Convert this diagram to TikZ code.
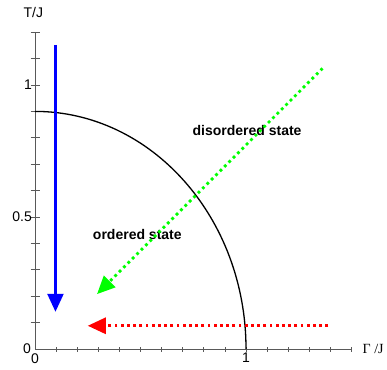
\documentclass[tikz,border=0pt]{standalone}
\usepackage{fontspec}
\setmainfont{Liberation Sans}
\newfontfamily\symbolserif{Liberation Serif}
\usetikzlibrary{arrows.meta}
\begin{document}
\begin{tikzpicture}[x=211pt,y=264pt,font=\fontsize{14}{16}\selectfont,
  axisline/.style={draw=gray!70!black, line width=0.8pt},
  ticklabel/.style={inner sep=0pt},
  dotline/.style={line width=2.8pt, dash pattern=on 2.8pt off 3.4pt},
  bigtip/.style={-{Triangle[length=18pt,width=16pt]}}]
\useasboundingbox (-35pt,-20pt) rectangle (352pt,349pt);

% axes
\coordinate (origin) at (0,0);
\coordinate (xend) at (1.5,0);
\coordinate (yend) at (0,1.2);
\draw[axisline] (xend) -- (origin) -- (yend);
\foreach \i in {1,...,15}
  \draw[axisline] (\i/10,0) ++(0,-2.5pt) -- ++(0,5pt);
\foreach \i in {1,...,12}
  \draw[axisline] (0,\i/10) ++(-4.5pt,0) -- ++(9pt,0);

\node[ticklabel, anchor=east, xshift=-4pt] (yzero) at (0,0) {0};
\node[ticklabel, anchor=east, xshift=-3pt] (yhalf) at (0,0.5) {0.5};
\node[ticklabel, anchor=east, xshift=-3pt] (yone) at (0,1) {1};
\node[ticklabel, anchor=north, yshift=-5pt] (xzero) at (0,0) {0};
\node[ticklabel, anchor=north, yshift=-4pt] (xone) at (1,0) {1};
\node (ylabel) at ([xshift=-1.7pt]0,1.273) {T/J};
\node[ticklabel, anchor=base west, xshift=11pt, yshift=-4.7pt] (xlabel) at (xend) {\symbolserif Γ /J};

% phase boundary
\coordinate (curvetop) at (0,0.9);
\draw[line width=1.3pt] (curvetop) arc[start angle=90, end angle=0, x radius=1, y radius=0.9];

\node[font=\fontsize{14}{16}\selectfont\bfseries] (disordered) at (1.005,0.826) {disordered state};
\node[font=\fontsize{14}{16}\selectfont\bfseries] (ordered) at (0.485,0.432) {ordered state};

% paths through the diagram
\coordinate (bluetop) at (0.097,1.152);
\coordinate (bluetip) at (0.097,0.141);
\draw[blue, line width=2.4pt, bigtip] (bluetop) -- (bluetip);

\coordinate (greenstart) at (1.363,1.063);
\coordinate (greentip) at (0.294,0.208);
\draw[green, dotline, bigtip] (greenstart) -- (greentip);

\coordinate (redstart) at (1.39,0.088);
\coordinate (redtip) at (0.25,0.088);
\draw[red, dotline, bigtip] (redstart) -- (redtip);
\end{tikzpicture}
\end{document}
